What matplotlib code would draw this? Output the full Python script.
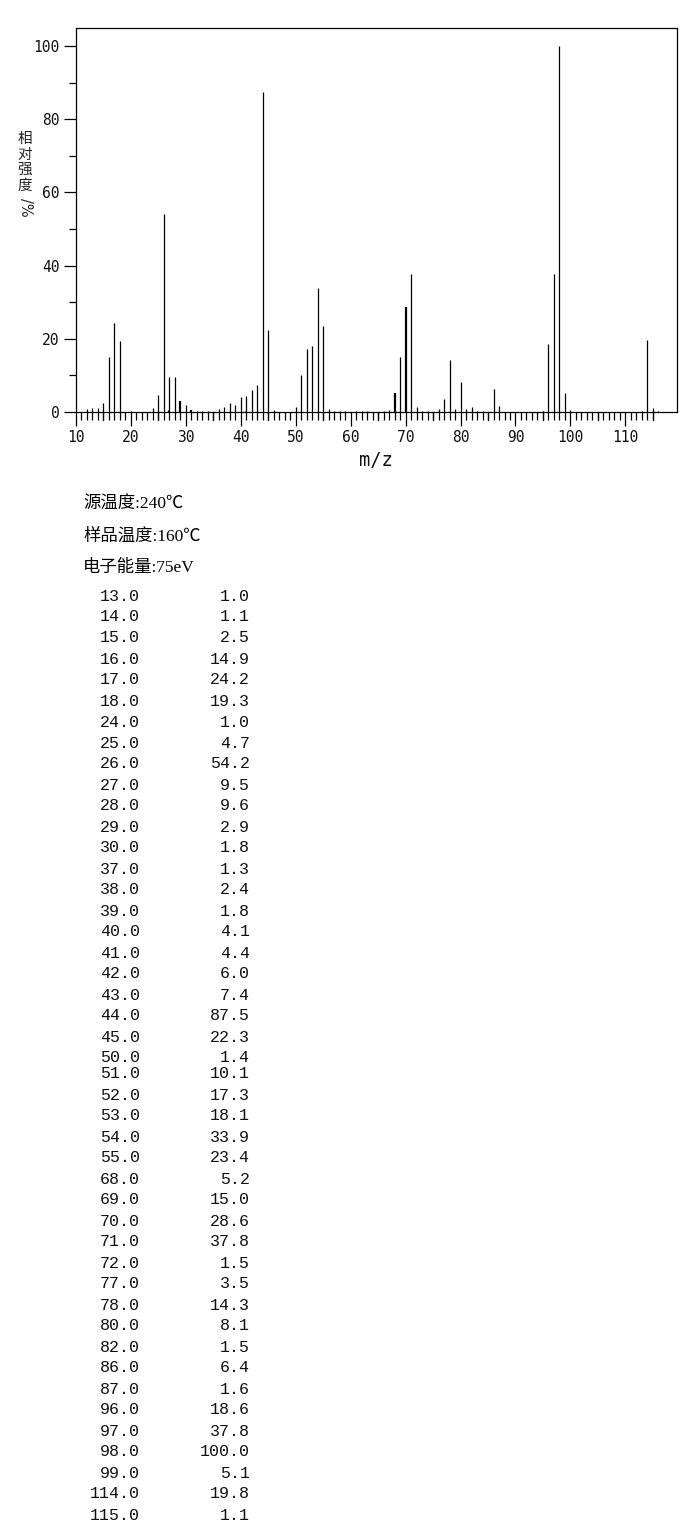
import numpy as np
import matplotlib.pyplot as plt
from matplotlib.ticker import MultipleLocator

# peaks listed in the table (m/z, relative intensity %)
mz = [13, 14, 15, 16, 17, 18, 24, 25, 26, 27, 28, 29, 30, 37, 38, 39, 40, 41, 42, 43,
      44, 45, 50, 51, 52, 53, 54, 55, 68, 69, 70, 71, 72, 77, 78, 80, 82, 86, 87, 96,
      97, 98, 99, 114, 115]
inten = [1.0, 1.1, 2.5, 14.9, 24.2, 19.3, 1.0, 4.7, 54.2, 9.5, 9.6, 2.9, 1.8, 1.3, 2.4,
         1.8, 4.1, 4.4, 6.0, 7.4, 87.5, 22.3, 1.4, 10.1, 17.3, 18.1, 33.9, 23.4, 5.2, 15.0,
         28.6, 37.8, 1.5, 3.5, 14.3, 8.1, 1.5, 6.4, 1.6, 18.6, 37.8, 100.0, 5.1, 19.8, 1.1]

# small peaks seen in the plot but not in the table
mz_small = [12, 20, 26.7, 31, 32, 33, 34, 36, 40.7, 46, 56, 57, 58, 59, 61, 62, 63, 66, 67,
            73, 74, 76, 79, 81, 83, 84, 95, 100, 113, 116]
inten_small = [0.8, 0.4, 0.6, 0.5, 0.4, 0.3, 0.3, 0.8, 0.3, 0.6, 0.8, 0.4, 0.3, 0.3, 0.3,
               0.3, 0.3, 0.3, 0.5, 0.3, 0.3, 0.8, 0.8, 0.8, 0.3, 0.3, 0.3, 0.5, 0.3, 0.3]

thick = [29, 31, 68, 70]  # drawn doubled in the reference

info = ['源温度:240℃', '样品温度:160℃', '电子能量:75eV']

W, H = 687, 1521
fig = plt.figure(figsize=(W / 100, H / 100), dpi=100)
ax = fig.add_axes([76 / W, 1 - 412 / H, 601 / W, 384 / H])

all_mz = np.array(mz + mz_small, dtype=float)
all_int = np.array(inten + inten_small)
is_thick = np.isin(all_mz, thick)
ax.vlines(all_mz[~is_thick], 0, all_int[~is_thick], color='black', lw=0.9)
ax.vlines(all_mz[is_thick], 0, all_int[is_thick], color='black', lw=1.6)

ax.set_xlim(10, 119.4)
ax.set_ylim(0, 104.9)
for s in ax.spines.values():
    s.set_linewidth(0.9)

ax.set_xticks(np.arange(10, 111, 10))
ax.set_xticks([v for v in range(10, 116) if v % 10 != 0], minor=True)
ax.set_yticks(np.arange(0, 101, 20))
ax.yaxis.set_minor_locator(MultipleLocator(10))
ax.tick_params(axis='x', which='major', length=10, width=0.9, pad=3, labelsize=10.5)
ax.tick_params(axis='x', which='minor', length=6, width=0.9)
ax.tick_params(axis='y', which='major', length=9, width=0.9, pad=3, labelsize=10.5)
ax.tick_params(axis='y', which='minor', length=5, width=0.9)
for lab in ax.get_xticklabels() + ax.get_yticklabels():
    lab.set_family('DejaVu Sans Mono')
    lab.set_color('#111111')

# 5-step ticks a bit longer than the unit ticks
for v in range(15, 116, 10):
    ax.plot([v, v], [0, -7.8 / 384 * 104.9], color='black', lw=0.9, clip_on=False)

fig.text(376 / W, 1 - 460 / H, 'm/z', ha='center', va='center', fontsize=13.5,
         family='DejaVu Sans Mono', color='#111111')

# vertical y label
for i, ch in enumerate('相对强度'):
    fig.text(25 / W, 1 - (139 + i * 15.5) / H, ch, ha='center', va='center', fontsize=10.5,
             family='Noto Sans CJK SC', color='#222222')
fig.text(25 / W, 1 - 207 / H, '/%', ha='center', va='center', fontsize=10.5, rotation=-90,
         family='DejaVu Sans', color='#222222')

# instrument info
for i, t in enumerate(info):
    fig.text(83 / W, 1 - (505 + i * 31.5) / H, t, ha='left', va='center', fontsize=12.5,
             family=['Liberation Serif', 'Noto Sans CJK SC'])

# peak table
for i, (m, v) in enumerate(zip(mz, inten)):
    y = 596 + 21 * i - (5 if i >= 23 else 0)
    fig.text(140 / W, 1 - y / H, f'{m:.1f}', ha='right', va='center', fontsize=12,
             family='Liberation Mono', color='#111111')
    fig.text(250 / W, 1 - y / H, f'{v:.1f}', ha='right', va='center', fontsize=12,
             family='Liberation Mono', color='#111111')

fig.savefig('out.png', dpi=100)
